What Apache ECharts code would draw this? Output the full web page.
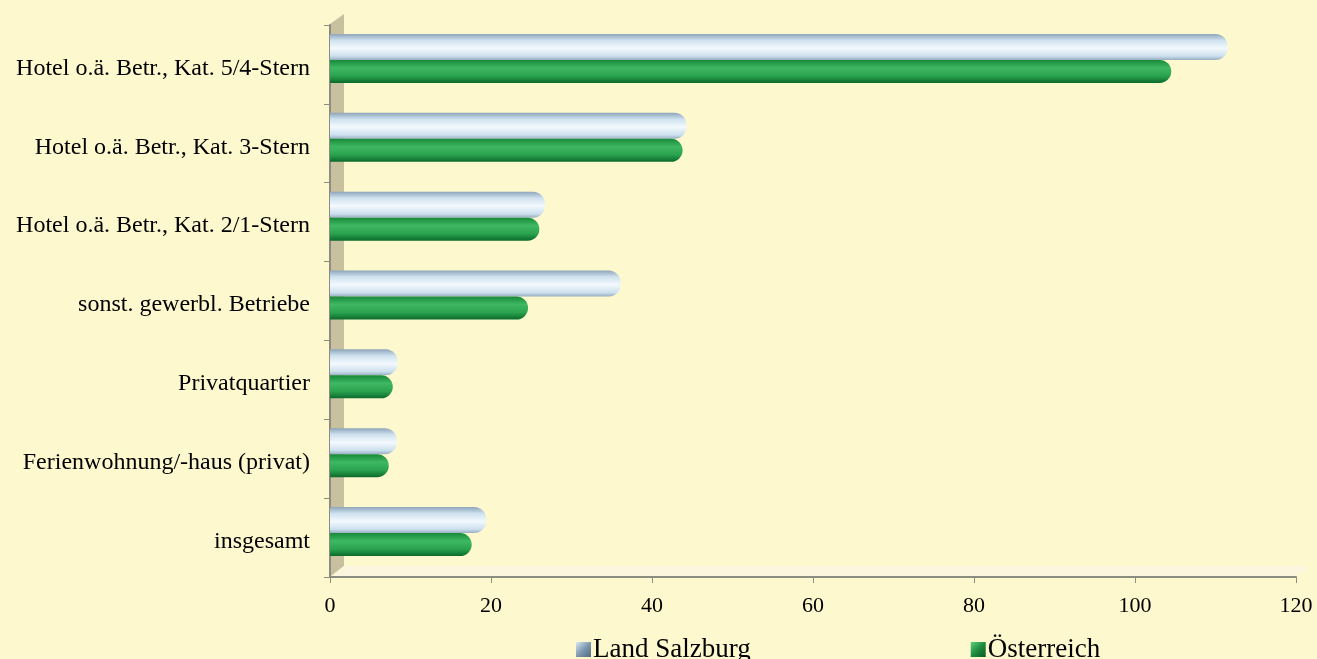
<!DOCTYPE html>
<html><head><meta charset="utf-8">
<script src="https://cdn.jsdelivr.net/npm/echarts@6/dist/echarts.min.js"></script>
<style>html,body{margin:0;padding:0;background:#fdf8cd;}#c{width:1317px;height:659px;}</style>
</head><body><div id="c"></div>
<script>
const categories = ["Hotel o.ä. Betr., Kat. 5/4-Stern","Hotel o.ä. Betr., Kat. 3-Stern","Hotel o.ä. Betr., Kat. 2/1-Stern","sonst. gewerbl. Betriebe","Privatquartier","Ferienwohnung/-haus (privat)","insgesamt"];
const seriesNames = ["Land Salzburg","Österreich"];
const salzburg = [111.5, 44.3, 26.7, 36.1, 8.4, 8.3, 19.4];
const oesterreich = [104.5, 43.8, 26.0, 24.6, 7.8, 7.3, 17.6];
const xTicks = [0, 20, 40, 60, 80, 100, 120];

const font = '"Liberation Serif", "Times New Roman", serif';
const gS = new echarts.graphic.LinearGradient(0,0,0,1,[{offset:0,color:'#8ea5ba'},{offset:0.25,color:'#cfe2ef'},{offset:0.55,color:'#f3f9fd'},{offset:0.85,color:'#cde0ee'},{offset:1,color:'#98aec1'}]);
const gO = new echarts.graphic.LinearGradient(0,0,0,1,[{offset:0,color:'#178a3a'},{offset:0.35,color:'#3fb863'},{offset:0.7,color:'#2aa24f'},{offset:1,color:'#0b6a2b'}]);
const iS = new echarts.graphic.LinearGradient(0,0,1,1,[{offset:0,color:'#dbe8f2'},{offset:0.5,color:'#7f9ab0'},{offset:1,color:'#4f6a80'}]);
const iO = new echarts.graphic.LinearGradient(0,0,1,1,[{offset:0,color:'#5fd080'},{offset:0.5,color:'#1d8c3e'},{offset:1,color:'#0a5a24'}]);

const chart = echarts.init(document.getElementById('c'));
chart.setOption({
  backgroundColor: '#fdf8cd',
  animation: false,
  graphic: [
    {type:'polygon', z:0, shape:{points:[[330,24],[344,14],[344,566],[330,577]]}, style:{fill:'#c9c0a0'}},
    {type:'polygon', z:0, shape:{points:[[330,577],[344,566],[1310,566],[1296,577]]}, style:{fill:'#fbf6dd'}}
  ],
  grid: [
    {left:330, right:21, top:25, bottom:82, containLabel:false},
    {left:330, right:21, top:19, bottom:88, containLabel:false},
    {left:330, right:21, top:29, bottom:78, containLabel:false}
  ],
  legend: {
    data:[{name:seriesNames[0], itemStyle:{color:iS}},{name:seriesNames[1], itemStyle:{color:iO}}],
    left: 571, top: 631, icon:'rect', itemWidth:15, itemHeight:15, itemGap:220,
    textStyle:{fontFamily:font, fontSize:27, color:'#000', padding:[0,0,0,-3]}
  },
  xAxis: [
    {gridIndex:0, type:'value', min:0, max:120, interval:20,
     axisLine:{show:true, lineStyle:{color:'#8c8c80', width:2}},
     axisTick:{show:true, length:6, lineStyle:{color:'#8c8c80'}},
     splitLine:{show:false},
     axisLabel:{fontFamily:font, fontSize:22, color:'#000', margin:18, formatter: v => xTicks.includes(v) ? String(v) : ''}},
    {gridIndex:1, type:'value', min:0, max:120, interval:20, show:false},
    {gridIndex:2, type:'value', min:0, max:120, interval:20, show:false}
  ],
  yAxis: [
    {gridIndex:0, type:'category', data:categories, inverse:true,
     axisLine:{show:true, lineStyle:{color:'#8c8c80', width:2}},
     axisTick:{show:true, length:6, lineStyle:{color:'#8c8c80'}},
     axisLabel:{show:false}},
    {gridIndex:1, type:'category', data:categories, inverse:true, show:false},
    {gridIndex:2, type:'category', data:categories, inverse:true,
     axisLine:{show:false}, axisTick:{show:false}, splitLine:{show:false},
     axisLabel:{fontFamily:font, fontSize:24, color:'#000', margin:20}}
  ],
  series: [
    {name:seriesNames[0], type:'bar', xAxisIndex:1, yAxisIndex:1, data:salzburg, barWidth:26, barGap:'0%',
     itemStyle:{color:gS, borderRadius:[0,12,12,0]}},
    {name:seriesNames[1], type:'bar', xAxisIndex:1, yAxisIndex:1, data:oesterreich, barWidth:23, barGap:'0%',
     itemStyle:{color:gO, borderRadius:[0,12,12,0]}}
  ]
});
</script></body></html>
